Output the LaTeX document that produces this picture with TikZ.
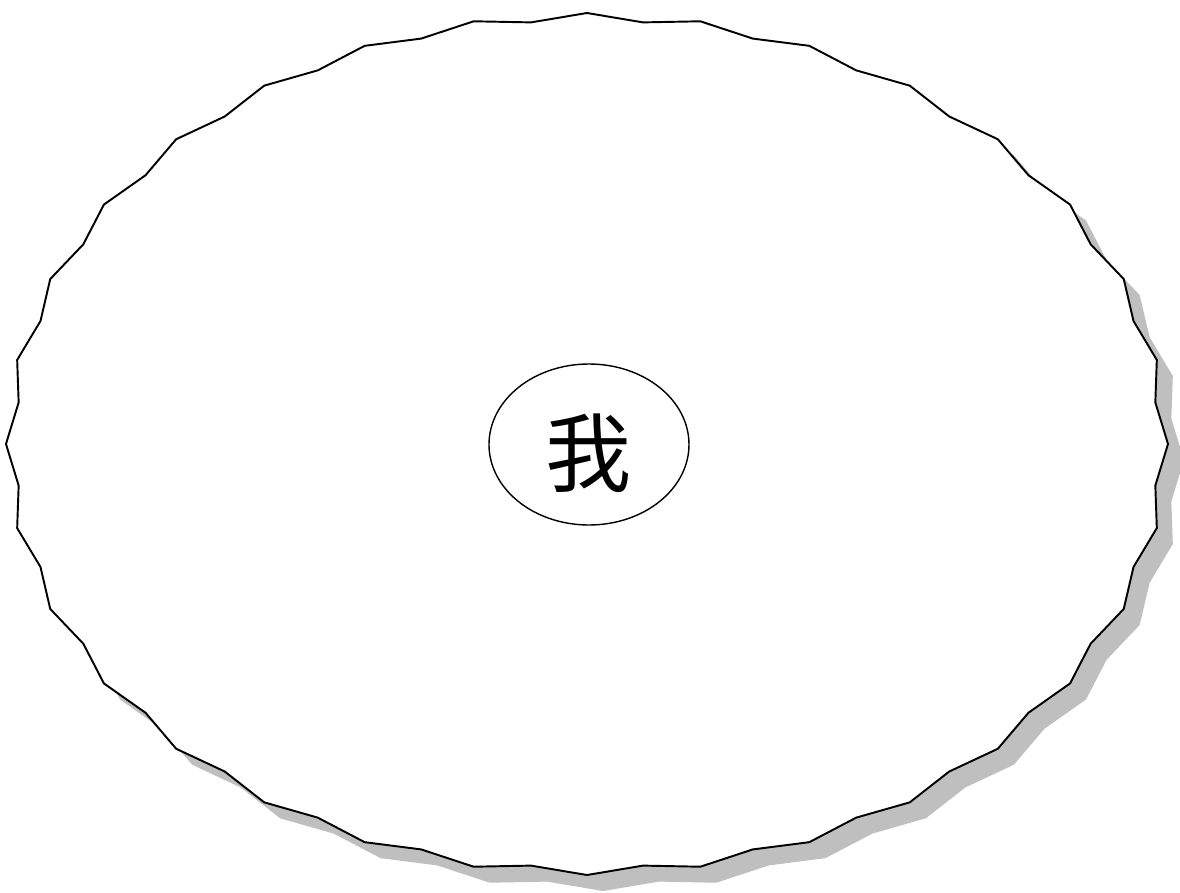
\documentclass[tikz,border=0pt]{standalone}
\usepackage{fontspec}
\newfontfamily\cjk{Noto Sans CJK SC}
\usetikzlibrary{shapes.geometric}

\begin{document}
\begin{tikzpicture}[
      burst/.style={draw, line width=1.1pt, fill=white, line join=miter},
      burstshadow/.style={fill=black!25, draw=none},
      self/.style={ellipse, draw, line width=0.8pt, fill=white, minimum width=4cm,
                   minimum height=3.22cm, inner sep=0pt, font=\cjk\fontsize{49}{52}\selectfont}]
    \useasboundingbox (-11.74,-8.98) rectangle (11.86,8.88);
    % shadow, then the jagged outline on top
    \path[burstshadow, shift={(0.32,-0.32)}] plot[samples at={0,...,63}, variable=\k]
      ({(mod(\k,2)==0 ? 1 : 0.983)*11.62*cos(\k*5.625)}, {(mod(\k,2)==0 ? 1 : 0.983)*8.62*sin(\k*5.625)}) -- cycle;
    \draw[burst] plot[samples at={0,...,63}, variable=\k]
      ({(mod(\k,2)==0 ? 1 : 0.983)*11.62*cos(\k*5.625)}, {(mod(\k,2)==0 ? 1 : 0.983)*8.62*sin(\k*5.625)}) -- cycle;
    \node[self] (wo) at (0.04,-0.01) {\raisebox{-0.17cm}[\height][\depth]{我}};
  \end{tikzpicture}
\end{document}
